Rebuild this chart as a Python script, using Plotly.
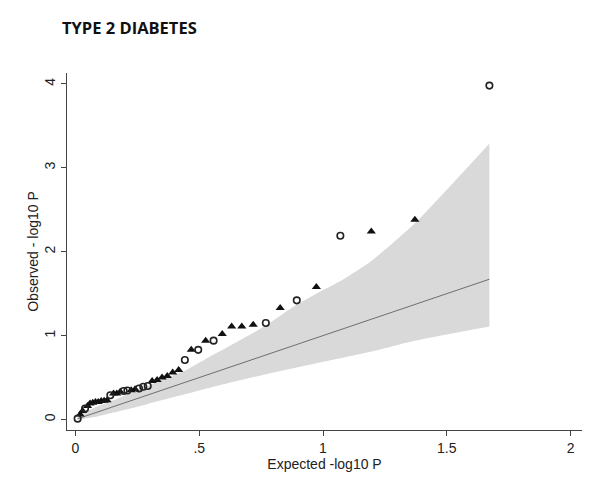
import plotly.graph_objects as go

# Expected -log10 P (x) for each SNP, ordered from largest to smallest
expected = [1.672, 1.371, 1.195, 1.070, 0.973, 0.894, 0.827, 0.769, 0.718, 0.672,
            0.631, 0.593, 0.558, 0.526, 0.496, 0.468, 0.442, 0.417, 0.393, 0.371,
            0.350, 0.330, 0.310, 0.292, 0.274, 0.257, 0.241, 0.225, 0.210, 0.195,
            0.181, 0.167, 0.154, 0.141, 0.128, 0.116, 0.104, 0.092, 0.081, 0.070,
            0.059, 0.049, 0.039, 0.029, 0.019, 0.009]
# Observed -log10 P
observed = [3.98, 2.38, 2.24, 2.19, 1.58, 1.42, 1.33, 1.15, 1.13, 1.11,
            1.11, 1.02, 0.94, 0.94, 0.83, 0.83, 0.71, 0.59, 0.56, 0.52,
            0.50, 0.47, 0.46, 0.40, 0.39, 0.37, 0.36, 0.35, 0.345, 0.34,
            0.33, 0.31, 0.31, 0.29, 0.23, 0.225, 0.22, 0.21, 0.21, 0.20,
            0.19, 0.16, 0.13, 0.10, 0.06, 0.01]
# Marker group: "o" hollow circle, "t" filled triangle
group = ["o", "t", "t", "o", "t", "o", "t", "o", "t", "t",
         "t", "t", "o", "t", "o", "t", "o", "t", "t", "t",
         "t", "t", "t", "o", "o", "o", "t", "t", "o", "o",
         "t", "t", "t", "o", "t", "t", "t", "t", "t", "t",
         "t", "t", "o", "t", "t", "o"]

# 95% confidence band
band_x = [1.672, 1.371, 1.195, 1.070, 0.973, 0.894, 0.769, 0.631, 0.526, 0.442,
          0.371, 0.292, 0.225, 0.154, 0.092, 0.049, 0.009]
band_hi = [3.29, 2.34, 1.89, 1.65, 1.50, 1.37, 1.12, 0.89, 0.72, 0.58,
           0.50, 0.40, 0.32, 0.23, 0.16, 0.10, 0.035]
band_lo = [1.11, 0.94, 0.81, 0.73, 0.67, 0.62, 0.54, 0.445, 0.366, 0.30,
           0.246, 0.186, 0.135, 0.083, 0.04, 0.018, 0.0003]

x_ticks = [0, 0.5, 1, 1.5, 2]
x_tick_labels = ["0", ".5", "1", "1.5", "2"]
y_ticks = [0, 1, 2, 3, 4]
y_tick_labels = ["0", "1", "2", "3", "4"]

fig = go.Figure()

fig.add_trace(go.Scatter(
    x=band_x + band_x[::-1], y=band_hi + band_lo[::-1],
    fill="toself", fillcolor="#d9d9d9", mode="lines",
    line=dict(width=0, color="#d9d9d9", shape="spline", smoothing=0.6),
    hoverinfo="skip", showlegend=False))

fig.add_trace(go.Scatter(
    x=expected, y=expected, mode="lines",
    line=dict(color="#6e6e6e", width=1), showlegend=False))

tx = [e for e, g in zip(expected, group) if g == "t"]
ty = [o for o, g in zip(observed, group) if g == "t"]
cx = [e for e, g in zip(expected, group) if g == "o"]
cy = [o for o, g in zip(observed, group) if g == "o"]

fig.add_trace(go.Scatter(
    x=tx, y=ty, mode="markers",
    marker=dict(symbol="triangle-up", size=8, color="#111111", line=dict(width=0)),
    showlegend=False))
fig.add_trace(go.Scatter(
    x=cx, y=cy, mode="markers",
    marker=dict(symbol="circle-open", size=6.5, color="#222222", line=dict(width=1.6)),
    showlegend=False))

axis_font = dict(family="Liberation Sans, Arial, sans-serif", size=14, color="#222222")

fig.update_layout(
    width=600, height=481,
    paper_bgcolor="white", plot_bgcolor="white",
    margin=dict(l=67, r=18, t=73, b=51),
    title=dict(text="<b>TYPE 2 DIABETES</b>", x=62 / 600, xanchor="left",
               y=1 - 28 / 481, yanchor="middle",
               font=dict(family="Open Sans, sans-serif", size=16.5, color="#111111")),
    xaxis=dict(range=[-0.034, 2.046], tickmode="array", tickvals=x_ticks,
               ticktext=x_tick_labels, showgrid=False, zeroline=False,
               showline=True, linecolor="#444444", linewidth=1,
               ticks="outside", ticklen=5, tickcolor="#444444",
               tickfont=axis_font,
               title=dict(text="Expected -log10 P", font=axis_font, standoff=1)),
    yaxis=dict(range=[-0.125, 4.13], tickmode="array", tickvals=y_ticks,
               ticktext=y_tick_labels, showgrid=False, zeroline=False,
               showline=True, linecolor="#444444", linewidth=1,
               ticks="outside", ticklen=5, tickcolor="#444444",
               tickangle=-90, tickfont=axis_font,
               title=dict(text="Observed - log10 P", font=axis_font, standoff=0)),
)

fig.write_html("out.html", config={"displayModeBar": False},
               post_script="document.body.style.margin='0';")
